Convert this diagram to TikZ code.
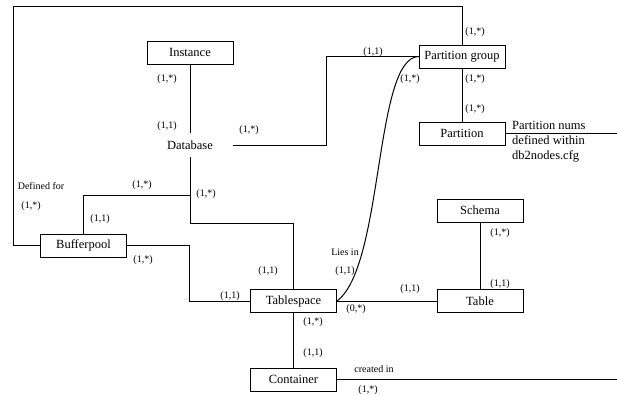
\documentclass[tikz,border=0pt]{standalone}
\usepackage{fontspec}
\setmainfont{Liberation Serif}
\usetikzlibrary{calc}

\tikzset{
	entity/.style={draw, line width=1pt, minimum width=86pt, minimum height=23pt, inner sep=0pt, font=\fontsize{12.5}{14}\selectfont},
	plain/.style={minimum width=86pt, minimum height=24pt, inner sep=0pt, font=\fontsize{12.5}{14}\selectfont},
	card/.style={inner sep=0pt, font=\fontsize{10}{12}\selectfont},
	link/.style={line width=1pt}
}

\begin{document}
\begin{tikzpicture}[x=1pt, y=-1pt]
			%%%%% START %%%%%
			\useasboundingbox (0,0) rectangle (617,394);
			
			\node[entity] (inst) at (190, 52.5) {Instance};
			\node[plain] (db) at (190, 145) {Database};
			\node[entity] (pg) at (462, 56.5) {Partition group};
			\node[entity] (part) at (462, 133.5) {Partition};
			\node[entity] (bp) at (83.5, 245.5) {Bufferpool};
			\node[entity] (ts) at (293.5, 301) {Tablespace};
			\node[entity] (cont) at (293.5, 379.5) {Container};
			\node[entity] (schema) at (480, 210.5) {Schema};
			\node[entity] (tab) at (480, 301) {Table};
			
			\coordinate (loop) at (13, 6);
			\coordinate (split) at (190, 195);
			\coordinate (partend) at (617, 133.5);
			\coordinate (contend) at (617, 379.5);
			
			\draw[link] (inst) -- (db);
			\draw[link] (db.east) -- ++(93, 0) |- (pg.west);
			\draw[link] (pg.north) |- (loop) |- (bp.west);
			\draw[link] (pg) -- (part);
			\draw[link] (part.east) -- (partend);
			\draw[link] (ts.east) .. controls (384, 266) and (374, 58) .. (pg.west);
			\draw[link] (ts) -- (cont);
			\draw[link] (cont.east) -- (contend);
			\draw[link] (ts) -- (tab);
			\draw[link] (schema) -- (tab);
			\draw[link] (db.south) -- ++(0, 66) -| (ts.north);
			\draw[link] (split) -| (bp.north);
			\draw[link] (bp.east) -- ++(62, 0) |- (ts.west);
			
			\node[card] (c1) at (167, 79) {(1,*)};
			\node[card] (c2) at (167, 126) {(1,1)};
			\node[card] (c3) at (249, 130) {(1,*)};
			\node[card] (c4) at (373, 52) {(1,1)};
			\node[card] (c5) at (475, 32) {(1,*)};
			\node[card] (c6) at (475, 79) {(1,*)};
			\node[card] (c7) at (475, 109) {(1,*)};
			\node[card] (c8) at (410, 79) {(1,*)};
			\node[card] (c9) at (142, 185) {(1,*)};
			\node[card] (c10) at (206, 194) {(1,*)};
			\node[card] (c11) at (100, 219) {(1,1)};
			\node[card] (c12) at (31, 206) {(1,*)};
			\node[card] (c13) at (143, 260) {(1,*)};
			\node[card] (c14) at (230, 296) {(1,1)};
			\node[card] (c15) at (268, 271) {(1,1)};
			\node[card] (c16) at (345, 271) {(1,1)};
			\node[card] (c17) at (410, 289) {(1,1)};
			\node[card] (c18) at (356, 309) {(0,*)};
			\node[card] (c19) at (500, 233) {(1,*)};
			\node[card] (c20) at (500, 284) {(1,1)};
			\node[card] (c21) at (313, 322) {(1,*)};
			\node[card] (c22) at (313, 353) {(1,1)};
			\node[card] (c23) at (368, 390) {(1,*)};
			
			\node[card] (deffor) at (41, 186) {Defined for};
			\node[card] (liesin) at (345, 252) {Lies in};
			\node[card] (created) at (374, 369) {created in};
			\node[card, anchor=north west, align=left, font=\fontsize{12.5}{15}\selectfont] (pnums) at (512, 121) {Partition nums\\defined within\\db2nodes.cfg};
			
			%%%%% END %%%%%
\end{tikzpicture}
\end{document}
